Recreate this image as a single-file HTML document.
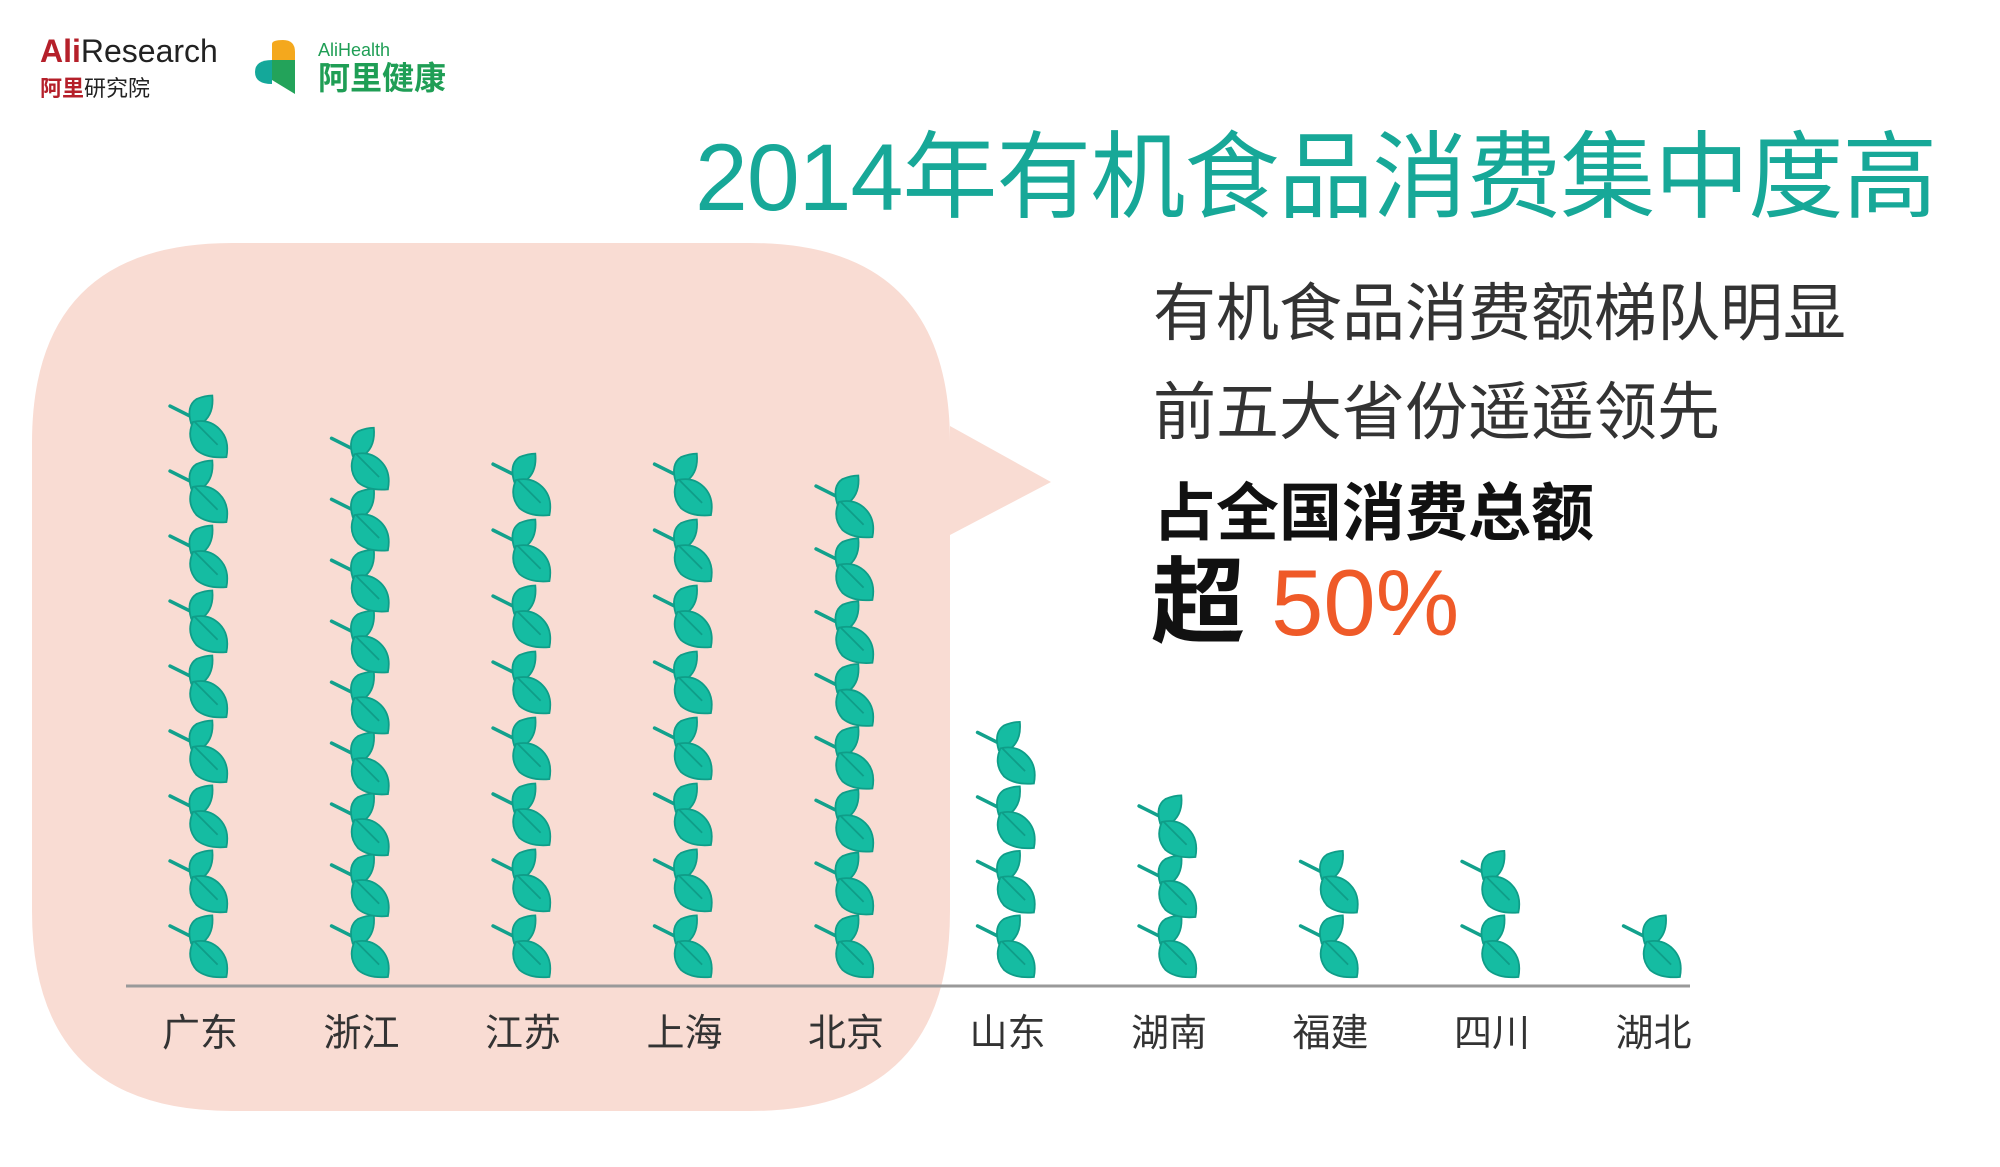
<!DOCTYPE html>
<html><head><meta charset="utf-8">
<style>
body{margin:0;width:2000px;height:1167px;background:#fff;overflow:hidden;font-family:"Liberation Sans","Noto Sans CJK SC",sans-serif;position:relative}
.t{position:absolute;white-space:nowrap}
</style></head><body>
<svg width="2000" height="1167" style="position:absolute;left:0;top:0">
<path d="M232,243 H750 Q950,243 950,443 V426 L1051,482 L950,535 V911 Q950,1111 750,1111 H232 Q32,1111 32,911 V443 Q32,243 232,243 Z" fill="#f9dcd3"/>
<g id="plot"></g>
</svg>
<div class="t" style="left:40px;top:34px;font-size:32px;line-height:34px;color:#222"><b style="color:#b5202a">Ali</b>Research<br><span style="font-size:22px;line-height:24px"><b style="color:#b5202a">阿里</b>研究院</span></div>
<svg class="t" style="left:255px;top:40px" width="50" height="56"><path d="M17,4 Q17,0 28,0 Q40,0 40,12 V20 H17Z" fill="#f4a81d"/><path d="M17,20 H40 V54 L17,40Z" fill="#23a35a"/><path d="M17,20 V44 Q0,44 0,32 Q0,20 17,20Z" fill="#14a89a"/></svg>
<div class="t" style="left:318px;top:40px;color:#1f9e55;font-size:18px;line-height:20px">AliHealth<br><span style="font-size:32px;line-height:36px;font-weight:bold">阿里健康</span></div>
<div class="t" style="left:695px;top:128px;font-size:95px;line-height:100px;color:#17a898;letter-spacing:-1px">2014年有机食品消费集中度高</div>
<div class="t" style="left:1153px;top:276px;font-size:63px;line-height:76px;color:#333">有机食品消费额梯队明显</div>
<div class="t" style="left:1153px;top:375px;font-size:63px;line-height:76px;color:#333">前五大省份遥遥领先</div>
<div class="t" style="left:1153px;top:476px;font-size:63px;line-height:76px;color:#111;font-weight:bold">占全国消费总额</div>
<div class="t" style="left:1151px;top:548px;font-size:94px;line-height:110px;color:#111;font-weight:bold">超 <span style="color:#ef5a28;font-weight:normal">50%</span></div>
<script>
const categories=["广东","浙江","江苏","上海","北京","山东","湖南","福建","四川","湖北"];
const values=[9.06,8.56,8.16,8.16,7.82,4.0,2.86,2.0,2.0,1.04];
const NS="http://www.w3.org/2000/svg";
const g=document.getElementById('plot');
const x0=200,step=161.5,base=977,unit=64.5;
function xS(i){return x0+i*step;}
function yS(v){return base-v*unit;}
function mk(t,a){const e=document.createElementNS(NS,t);for(const k in a)e.setAttribute(k,a[k]);return e;}
const axis=mk('line',{x1:126,x2:1690,y1:986,y2:986,stroke:'#999','stroke-width':3});


g.appendChild(axis);
values.forEach((v,i)=>{
  const n=Math.max(1,Math.round(v));
  const cx=xS(i);
  const col=mk('g',{});
  
  
  for(let j=0;j<n;j++){
    const sp=n>1?(v-1)/(n-1):0;
    const by=base-j*sp*unit;
    const lf=mk('g',{transform:`translate(${cx},${by}) scale(0.88)`});
    
    
    lf.appendChild(mk('path',{d:'M-34,-58 L-6,-44',stroke:'#12a18c','stroke-width':4,'stroke-linecap':'round',fill:'none'}));
    lf.appendChild(mk('path',{d:'M-10,-38 Q-16,-58 -4,-66 Q6,-70 14,-70 Q16,-50 4,-40 Z',fill:'#15bca2',stroke:'#0f9d88','stroke-width':2}));
    lf.appendChild(mk('path',{d:'M-8,-40 Q-16,-22 -4,-8 Q8,2 30,0 Q34,-20 22,-32 Q10,-44 -8,-40 Z',fill:'#15bca2',stroke:'#0f9d88','stroke-width':2}));
    lf.appendChild(mk('path',{d:'M-6,-40 L20,-14',stroke:'#0f9d88','stroke-width':2,fill:'none'}));
    col.appendChild(lf);
  }
  g.appendChild(col);
  const t=mk('text',{x:cx,y:1046,'text-anchor':'middle','font-size':38,fill:'#333','font-family':'"Liberation Sans","Noto Sans CJK SC",sans-serif'});
  t.textContent=categories[i];
  
  
  g.appendChild(t);
});
</script>
</body></html>
